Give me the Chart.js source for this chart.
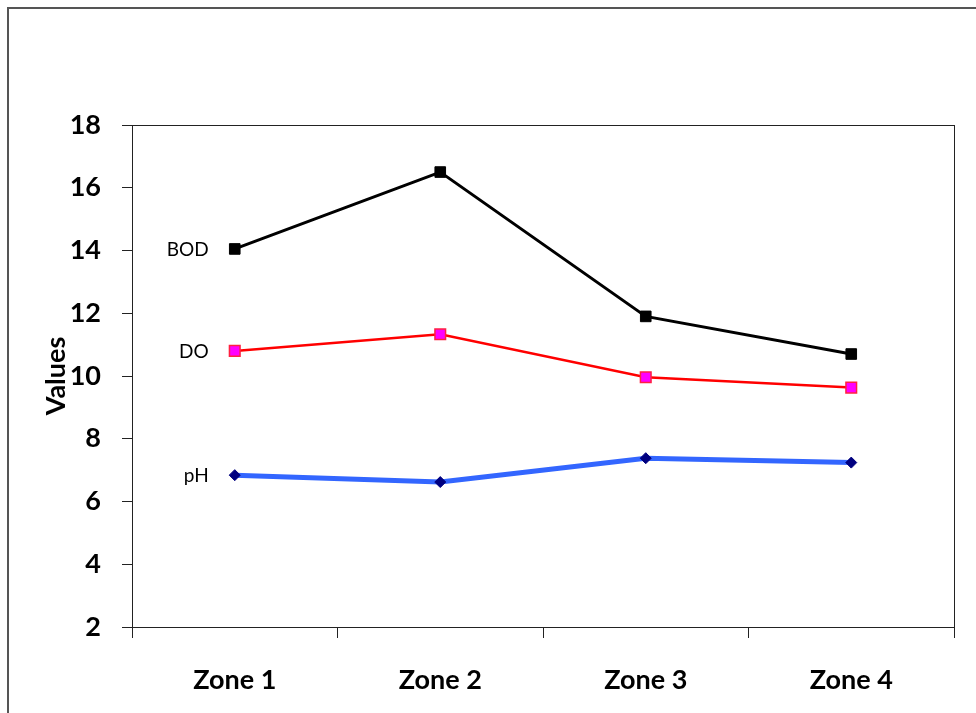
<!DOCTYPE html>
<html>
<head>
<meta charset="utf-8">
<script src="https://cdn.jsdelivr.net/npm/chart.js@4/dist/chart.umd.min.js"></script>
<style>
  html, body { margin: 0; padding: 0; background: #fff; }
  #wrap { width: 976px; height: 713px; position: relative; }
</style>
</head>
<body>
<div id="wrap"><canvas id="c" width="976" height="713"></canvas></div>
<script>
// Water quality parameters measured across four zones
const zones = ['Zone 1', 'Zone 2', 'Zone 3', 'Zone 4'];
const seriesNames = ['BOD', 'DO', 'pH'];
const bodValues = [14.05, 16.5, 11.9, 10.7];
const doValues = [10.8, 11.33, 9.96, 9.63];
const phValues = [6.84, 6.62, 7.38, 7.24];
const yTicks = [2, 4, 6, 8, 10, 12, 14, 16, 18];

const FONT = 'Lato, "Open Sans", sans-serif';

// Frame around the whole figure and box around the plot area
const framePlugin = {
  id: 'frame',
  beforeDraw(chart) {
    const ctx = chart.ctx;
    ctx.save();
    ctx.fillStyle = '#fff';
    ctx.fillRect(0, 0, chart.width, chart.height);
    ctx.strokeStyle = '#555';
    ctx.lineWidth = 2;
    ctx.beginPath();
    ctx.moveTo(8, chart.height + 2);
    ctx.lineTo(8, 8);
    ctx.lineTo(chart.width + 2, 8);
    ctx.stroke();
    ctx.restore();
  },
  afterDraw(chart) {
    const a = chart.chartArea;
    const ctx = chart.ctx;
    ctx.save();
    ctx.strokeStyle = '#222';
    ctx.lineWidth = 1;
    ctx.strokeRect(Math.round(a.left) + 0.5, Math.round(a.top) + 0.5,
      Math.round(a.right - a.left), Math.round(a.bottom - a.top));
    ctx.restore();
  }
};

// Series names written just left of each line's first point
const seriesLabelPlugin = {
  id: 'seriesLabels',
  afterDatasetsDraw(chart) {
    const ctx = chart.ctx;
    ctx.save();
    ctx.font = '19px ' + FONT;
    ctx.fillStyle = '#000';
    ctx.textAlign = 'right';
    ctx.textBaseline = 'middle';
    chart.data.datasets.forEach((ds, i) => {
      const p = chart.getDatasetMeta(i).data[0];
      ctx.fillText(ds.label, p.x - 26, p.y + 1);
    });
    ctx.restore();
  }
};

new Chart(document.getElementById('c'), {
  type: 'line',
  data: {
    labels: zones,
    datasets: [
      {
        label: seriesNames[0],
        data: bodValues,
        borderColor: '#000',
        borderWidth: 3,
        pointStyle: 'rect',
        pointRadius: 7.5,
        pointBackgroundColor: '#000',
        pointBorderColor: '#000',
        pointBorderWidth: 1,
        tension: 0
      },
      {
        label: seriesNames[1],
        data: doValues,
        borderColor: '#ff0000',
        borderWidth: 2.5,
        pointStyle: 'rect',
        pointRadius: 7.5,
        pointBackgroundColor: '#ff00ff',
        pointBorderColor: '#ff2040',
        pointBorderWidth: 1.5,
        tension: 0
      },
      {
        label: seriesNames[2],
        data: phValues,
        borderColor: '#3366ff',
        borderWidth: 5,
        pointStyle: 'rectRot',
        pointRadius: 5.5,
        pointBackgroundColor: '#000080',
        pointBorderColor: '#000080',
        pointBorderWidth: 1,
        tension: 0
      }
    ]
  },
  options: {
    responsive: false,
    animation: false,
    devicePixelRatio: 1,
    layout: { padding: { top: 125, right: 22, bottom: 0, left: 0 } },
    plugins: {
      legend: { display: false },
      tooltip: { enabled: false }
    },
    scales: {
      x: {
        type: 'category',
        offset: true,
        grid: {
          offset: true,
          drawOnChartArea: false,
          drawTicks: true,
          tickLength: 11,
          color: '#222',
          lineWidth: 1
        },
        border: { display: true, color: '#222', width: 1 },
        ticks: {
          color: '#000',
          font: { family: FONT, size: 27, weight: 'bold' },
          padding: 26,
          maxRotation: 0
        },
        afterFit(scale) { scale.height = 86; }
      },
      y: {
        min: 2,
        max: 18,
        afterBuildTicks(scale) { scale.ticks = yTicks.map(v => ({ value: v })); },
        grid: {
          drawOnChartArea: false,
          drawTicks: true,
          tickLength: 10,
          color: '#222',
          lineWidth: 1
        },
        border: { display: true, color: '#222', width: 1 },
        ticks: {
          color: '#000',
          font: { family: FONT, size: 27, weight: 'bold' },
          padding: 21
        },
        title: {
          display: true,
          text: 'Values',
          color: '#000',
          font: { family: FONT, size: 27, weight: 'bold' },
          padding: { top: 40, bottom: 0 }
        },
        afterFit(scale) { scale.width = 132; }
      }
    }
  },
  plugins: [framePlugin, seriesLabelPlugin]
});
</script>
</body>
</html>
